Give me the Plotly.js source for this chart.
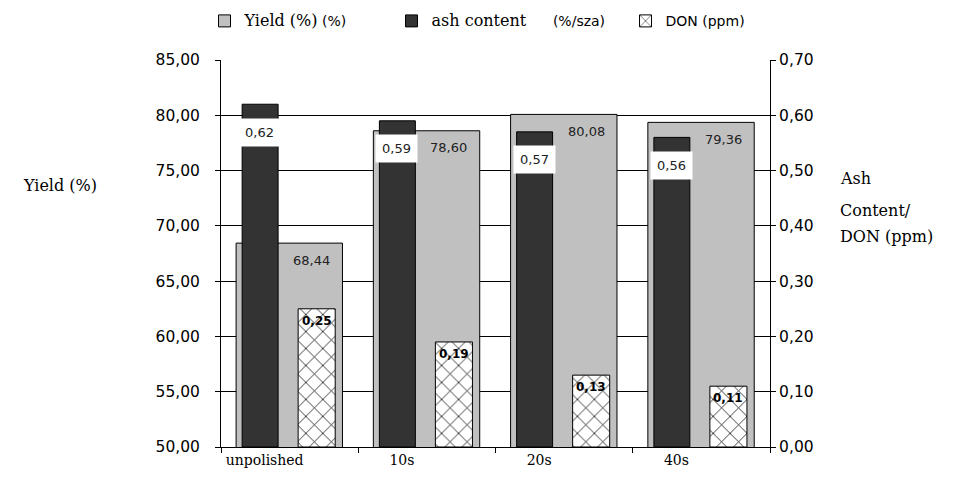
<!DOCTYPE html>
<html>
<head>
<meta charset="utf-8">
<script src="https://cdn.plot.ly/plotly-3.0.1.min.js"></script>
<style>html,body{margin:0;padding:0;background:#fff;}#chart{width:956px;height:491px;}</style>
</head>
<body>
<div id="chart"></div>
<script>
const categories = ['unpolished', '10s', '20s', '40s'];
const yieldPct = [68.44, 78.60, 80.08, 79.36];
const ashContent = [0.62, 0.59, 0.57, 0.56];
const donPpm = [0.25, 0.19, 0.13, 0.11];

const fmt = v => v.toFixed(2).replace('.', ',');
const SANS = 'DejaVu Sans, Verdana, sans-serif';
const SERIF = 'DejaVu Serif, Liberation Serif, serif';
const NB = '\u00a0';
const serifSpan = (t, s) => '<span style="font-family:\'DejaVu Serif\',serif;font-size:' + s + 'px">' + t + '</span>';

const traces = [
  {
    type: 'bar', name: serifSpan('Yield (%)', 16) + ' (%)',
    x: categories, y: yieldPct, yaxis: 'y',
    width: 0.775, offset: -0.39,
    marker: {color: '#c0c0c0', line: {color: '#000', width: 1}},
    legendwidth: 142, hoverinfo: 'none'
  },
  {
    type: 'bar', name: serifSpan('ash content', 16) + NB.repeat(6) + '(%/sza)',
    x: categories, y: ashContent, yaxis: 'y2',
    width: 0.262, offset: -0.346,
    marker: {color: '#333333', line: {color: '#000', width: 1}},
    legendwidth: 189, hoverinfo: 'none'
  },
  {
    type: 'bar', name: 'DON (ppm)',
    x: categories, y: donPpm, yaxis: 'y2',
    width: 0.27, offset: 0.062,
    marker: {color: '#ffffff', line: {color: '#000', width: 1},
      pattern: {shape: 'x', fgcolor: '#000', bgcolor: '#fff', size: 12, solidity: 0.12}},
    hoverinfo: 'none'
  }
];

const annotations = [];
categories.forEach((c, i) => {
  annotations.push({xref: 'x', yref: 'y', x: c, y: yieldPct[i], text: fmt(yieldPct[i]),
    showarrow: false, xshift: 22, yshift: -17, font: {family: SANS, size: 13, color: '#222'}});
  annotations.push({xref: 'x', yref: 'y2', x: c, y: ashContent[i], text: fmt(ashContent[i]),
    showarrow: false, xshift: -30, yshift: -28, bgcolor: '#fff', borderpad: 6,
    font: {family: SANS, size: 13, color: '#222'}});
  annotations.push({xref: 'x', yref: 'y2', x: c, y: donPpm[i], text: '<b>' + fmt(donPpm[i]) + '</b>',
    showarrow: false, xshift: 27, yshift: -12, font: {family: SANS, size: 12, color: '#000'}});
});
annotations.push({xref: 'paper', yref: 'paper', x: -0.293, y: 0.677, text: 'Yield (%)',
  showarrow: false, xanchor: 'center', yanchor: 'middle', font: {family: SERIF, size: 16, color: '#000'}});
[['Ash', 0.695], ['Content/', 0.612], ['DON (ppm)', 0.543]].forEach(([t, yy]) => {
  annotations.push({xref: 'paper', yref: 'paper', x: 1.124, y: yy, text: t, showarrow: false,
    xanchor: 'left', yanchor: 'middle', font: {family: SERIF, size: 16, color: '#000'}});
});

const layout = {
  width: 956, height: 491,
  margin: {l: 221, r: 186, t: 60, b: 44, autoexpand: false},
  paper_bgcolor: '#fff', plot_bgcolor: '#fff',
  barmode: 'overlay',
  separators: ',.',
  showlegend: true,
  legend: {orientation: 'h', x: -0.03, xanchor: 'left', y: 1.1, yanchor: 'middle',
    font: {family: SANS, size: 14, color: '#000'}, traceorder: 'normal', itemwidth: 30},
  xaxis: {type: 'category', range: [-0.5, 3.5], tickson: 'boundaries', ticks: 'outside', ticklen: 5,
    showline: true, linecolor: '#000', linewidth: 1, showgrid: false, ticklabelshift: -25,
    tickfont: {family: SERIF, size: 14, color: '#000'}, tickcolor: '#000'},
  yaxis: {range: [50, 85], dtick: 5, tickformat: '.2f', showgrid: true, gridcolor: '#000', gridwidth: 1,
    showline: true, linecolor: '#000', ticks: 'outside', ticklen: 5, tickcolor: '#000', zeroline: false,
    ticklabelstandoff: 12, tickfont: {family: SANS, size: 15.5, color: '#000'}},
  yaxis2: {range: [0, 0.7], dtick: 0.1, tickformat: '.2f', overlaying: 'y', side: 'right', showgrid: false,
    showline: true, linecolor: '#000', ticks: 'outside', ticklen: 5, tickcolor: '#000', zeroline: false,
    tickfont: {family: SANS, size: 15.5, color: '#000'}},
  annotations: annotations
};

Plotly.newPlot('chart', traces, layout, {displayModeBar: false, staticPlot: true});
</script>
</body>
</html>
